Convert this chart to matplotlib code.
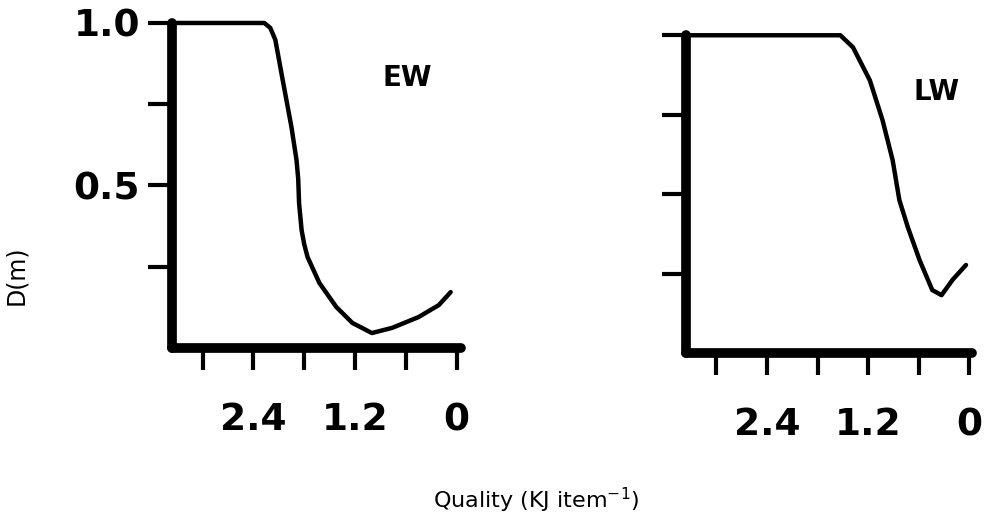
import matplotlib.pyplot as plt

# digging depth D(m) against prey quality, early (EW) and late (LW) winter
ew_quality = [3.36, 2.60, 2.27, 2.20, 2.14, 2.06, 1.95, 1.89, 1.87, 1.86,
              1.83, 1.80, 1.76, 1.62, 1.42, 1.23, 1.00, 0.76, 0.45, 0.21, 0.07]
ew_depth = [1.0, 1.0, 1.0, 0.985, 0.948, 0.834, 0.68, 0.578, 0.52, 0.446,
            0.363, 0.32, 0.28, 0.20, 0.126, 0.077, 0.046, 0.062, 0.095,
            0.132, 0.172]

lw_quality = [3.35, 2.40, 1.53, 1.38, 1.18, 1.03, 0.91, 0.83, 0.73, 0.59,
              0.44, 0.33, 0.20, 0.04]
lw_depth = [1.0, 1.0, 1.0, 0.962, 0.858, 0.733, 0.607, 0.481, 0.396, 0.292,
            0.198, 0.182, 0.23, 0.277]

x_ticks = [0, 0.6, 1.2, 1.8, 2.4, 3.0]
x_labels = ["0", "", "1.2", "", "2.4", ""]
y_ticks = [0.25, 0.5, 0.75, 1.0]
y_labels_left = ["", "0.5", "", "1.0"]
y_labels_right = ["", "", "", ""]

fig = plt.figure(figsize=(9.96, 5.2), dpi=100)
ax1 = fig.add_axes([0.1727, 0.3308, 0.290, 0.625])
ax2 = fig.add_axes([0.6888, 0.3212, 0.287, 0.611])


def style_axes(ax, ylabels, x_right):
    ax.set_xlim(3.36, x_right)
    ax.set_ylim(0, 1.0)
    for side in ["top", "right"]:
        ax.spines[side].set_visible(False)
    for side in ["left", "bottom"]:
        ax.spines[side].set_linewidth(7)
        ax.spines[side].set_capstyle("round")
    ax.set_xticks(x_ticks)
    ax.set_xticklabels(x_labels, fontsize=27, fontweight="bold")
    ax.set_yticks(y_ticks)
    ax.set_yticklabels(ylabels, fontsize=27, fontweight="bold")
    ax.tick_params(axis="x", length=16, width=3, pad=23)
    ax.tick_params(axis="y", length=17, width=3, pad=6)


ax1.plot(ew_quality, ew_depth, color="black", lw=3.2, solid_capstyle="round",
         solid_joinstyle="round", clip_on=False)
style_axes(ax1, y_labels_left, -0.05)
ax1.text(0.58, 0.83, "EW", fontsize=20, fontweight="bold", ha="center",
         va="center")

ax2.plot(lw_quality, lw_depth, color="black", lw=3.2, solid_capstyle="round",
         solid_joinstyle="round", clip_on=False)
style_axes(ax2, y_labels_right, -0.03)
ax2.text(0.39, 0.82, "LW", fontsize=20, fontweight="bold", ha="center",
         va="center")

fig.text(0.016, 0.47, "D(m)", rotation=90, fontsize=17, ha="center",
         va="center")
fig.text(0.538, 0.038, r"Quality (KJ item$^{-1}$)", fontsize=16,
         ha="center", va="center")

fig.savefig("out.png", dpi=100)
